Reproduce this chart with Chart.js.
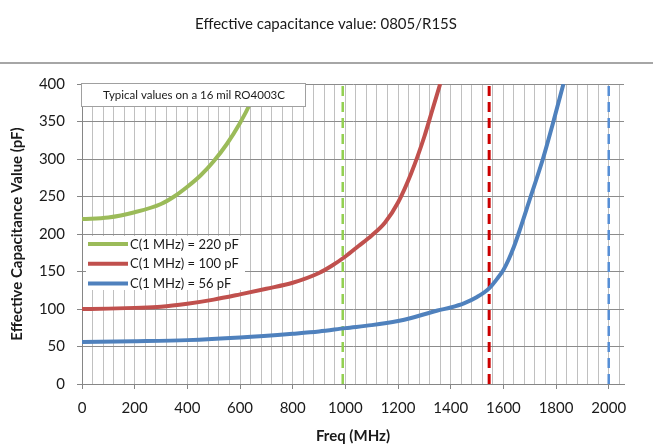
<!DOCTYPE html>
<html>
<head>
<meta charset="utf-8">
<script src="https://cdn.jsdelivr.net/npm/chart.js@4.4.0/dist/chart.umd.min.js"></script>
<style>
html,body{margin:0;padding:0;background:#fff;}
#wrap{width:653px;height:444px;}
</style>
</head>
<body>
<div id="wrap"><canvas id="c" width="653" height="444"></canvas></div>
<script>
// ---- data ----
const chartTitle = 'Effective capacitance value: 0805/R15S';
const noteText = 'Typical values on a 16 mil RO4003C';
const xAxisTitle = 'Freq (MHz)';
const yAxisTitle = 'Effective Capacitance Value (pF)';
const xTickLabels = [0, 200, 400, 600, 800, 1000, 1200, 1400, 1600, 1800, 2000];
const yTickLabels = [0, 50, 100, 150, 200, 250, 300, 350, 400];
const seriesLabels = ['C(1 MHz) = 220 pF', 'C(1 MHz) = 100 pF', 'C(1 MHz) = 56 pF'];

const freq220 = [0, 100, 200, 300, 350, 400, 450, 500, 550, 600, 640, 670];
const cap220  = [220, 222, 229, 240, 250, 263, 278, 297, 320, 348, 375, 400];

const freq100 = [0, 100, 200, 300, 400, 500, 600, 700, 800, 900, 950, 1000, 1050, 1100, 1150, 1200, 1250, 1300, 1330, 1360];
const cap100  = [100, 100.5, 101.5, 103, 107, 112.5, 119.5, 127, 135, 148, 158, 170, 184, 198, 215, 242, 281, 330, 365, 400];

const freq56 = [0, 200, 400, 600, 800, 900, 1000, 1100, 1200, 1250, 1300, 1350, 1400, 1450, 1500, 1546, 1580, 1600, 1620, 1640, 1660, 1700, 1750, 1790, 1828];
const cap56  = [56, 57, 58.5, 62, 67, 70, 74.5, 78.5, 84, 88, 93, 98, 102, 107.5, 116, 127.5, 142, 152, 166, 183, 203, 246, 300, 350, 400];

const resonanceFreqs = [990, 1546, 2000];

// ---- styles ----
const curveColors = ['#9BBB59', '#C0504D', '#4F81BD'];
const dashColors = ['#92D050', '#CC0000', '#558ED5'];
const dashWidths = [2.5, 3, 2.5];
const FONT = 'Lato, "Open Sans", sans-serif';

function pts(xs, ys) { return xs.map((x, i) => ({x: x, y: ys[i]})); }

const curveSets = [[freq220, cap220], [freq100, cap100], [freq56, cap56]].map((s, i) => ({
  label: seriesLabels[i],
  data: pts(s[0], s[1]),
  borderColor: curveColors[i],
  backgroundColor: curveColors[i],
  borderWidth: 4,
  pointRadius: 0,
  cubicInterpolationMode: 'monotone',
  fill: false,
  order: 0
}));

const dashSets = resonanceFreqs.map((f, i) => ({
  label: 'res' + i,
  data: [{x: f, y: yTickLabels[0]}, {x: f, y: yTickLabels[yTickLabels.length - 1]}],
  borderColor: dashColors[i],
  borderWidth: dashWidths[i],
  borderDash: [10, 6],
  pointRadius: 0,
  fill: false,
  order: 1
}));

const decorPlugin = {
  id: 'decor',
  beforeDraw(chart) {
    const ctx = chart.ctx;
    ctx.save();
    ctx.fillStyle = '#fff';
    ctx.fillRect(0, 0, chart.width, chart.height);
    ctx.fillStyle = '#1a1a1a';
    ctx.font = '15px ' + FONT;
    ctx.textAlign = 'center';
    ctx.textBaseline = 'middle';
    ctx.fillText(chartTitle, 326, 24);
    ctx.strokeStyle = '#a6a6a6';
    ctx.lineWidth = 2;
    ctx.beginPath();
    ctx.moveTo(0, 63);
    ctx.lineTo(chart.width, 63);
    ctx.stroke();
    ctx.restore();
  },
  afterDatasetsDraw(chart) {
    const ctx = chart.ctx;
    const a = chart.chartArea;
    ctx.save();
    // note box
    ctx.fillStyle = '#fff';
    ctx.fillRect(a.left, a.top, 223, 22);
    ctx.strokeStyle = '#a0a0a0';
    ctx.lineWidth = 1;
    ctx.strokeRect(a.left - 0.5, a.top - 0.5, 224, 23);
    ctx.fillStyle = '#1a1a1a';
    ctx.font = '11.5px ' + FONT;
    ctx.textAlign = 'center';
    ctx.textBaseline = 'middle';
    ctx.fillText(noteText, a.left + 112, a.top + 11.5);
    // legend
    ctx.fillStyle = '#fff';
    ctx.fillRect(a.left + 4, 236, 159, 54);
    ctx.font = '13px ' + FONT;
    ctx.textAlign = 'left';
    for (let i = 0; i < 3; i++) {
      const y = 244 + i * 19.7;
      ctx.strokeStyle = curveColors[i];
      ctx.lineWidth = 4;
      ctx.beginPath();
      ctx.moveTo(a.left + 6, y);
      ctx.lineTo(a.left + 46, y);
      ctx.stroke();
      ctx.fillStyle = '#1a1a1a';
      ctx.fillText(chart.data.datasets[i].label, a.left + 48, y + 0.5);
    }
    ctx.restore();
  }
};

new Chart(document.getElementById('c'), {
  type: 'line',
  data: { datasets: curveSets.concat(dashSets) },
  plugins: [decorPlugin],
  options: {
    responsive: false,
    animation: false,
    devicePixelRatio: 1,
    layout: { padding: { top: 84, right: 29, left: 0, bottom: 0 } },
    plugins: { legend: { display: false }, tooltip: { enabled: false }, title: { display: false } },
    scales: {
      x: {
        type: 'linear',
        min: 0,
        max: 2058,
        afterFit(s) { s.height = 60; },
        afterBuildTicks(s) {
          const t = [];
          for (let v = 0; v <= 2040; v += 40) t.push({value: v});
          s.ticks = t;
        },
        grid: {
          color: '#c0c0c0',
          lineWidth: 1,
          drawTicks: true,
          tickLength: 5,
          tickColor: (c) => (c.tick && xTickLabels.includes(c.tick.value)) ? '#868686' : 'rgba(0,0,0,0)'
        },
        border: { color: '#868686', width: 1 },
        ticks: {
          autoSkip: false,
          maxRotation: 0,
          padding: 10,
          color: '#1a1a1a',
          font: { family: FONT, size: 15 },
          callback: (v) => xTickLabels.includes(v) ? String(v) : ''
        },
        title: {
          display: true,
          text: xAxisTitle,
          color: '#1a1a1a',
          font: { family: FONT, size: 15, weight: 'bold', lineHeight: 1 },
          padding: { top: 0, bottom: 0 }
        }
      },
      y: {
        type: 'linear',
        min: 0,
        max: 400,
        afterFit(s) { s.width = 82; },
        afterBuildTicks(s) { s.ticks = yTickLabels.map(v => ({value: v})); },
        grid: { color: '#8c8c8c', lineWidth: 1, drawTicks: true, tickLength: 5, tickColor: '#868686' },
        border: { color: '#868686', width: 1 },
        ticks: {
          padding: 12,
          color: '#1a1a1a',
          font: { family: FONT, size: 15 },
          callback: (v) => String(v)
        },
        title: {
          display: true,
          text: yAxisTitle,
          color: '#1a1a1a',
          font: { family: FONT, size: 15, weight: 'bold', lineHeight: 1 },
          padding: { top: 10, bottom: 0 }
        }
      }
    }
  }
});
</script>
</body>
</html>
